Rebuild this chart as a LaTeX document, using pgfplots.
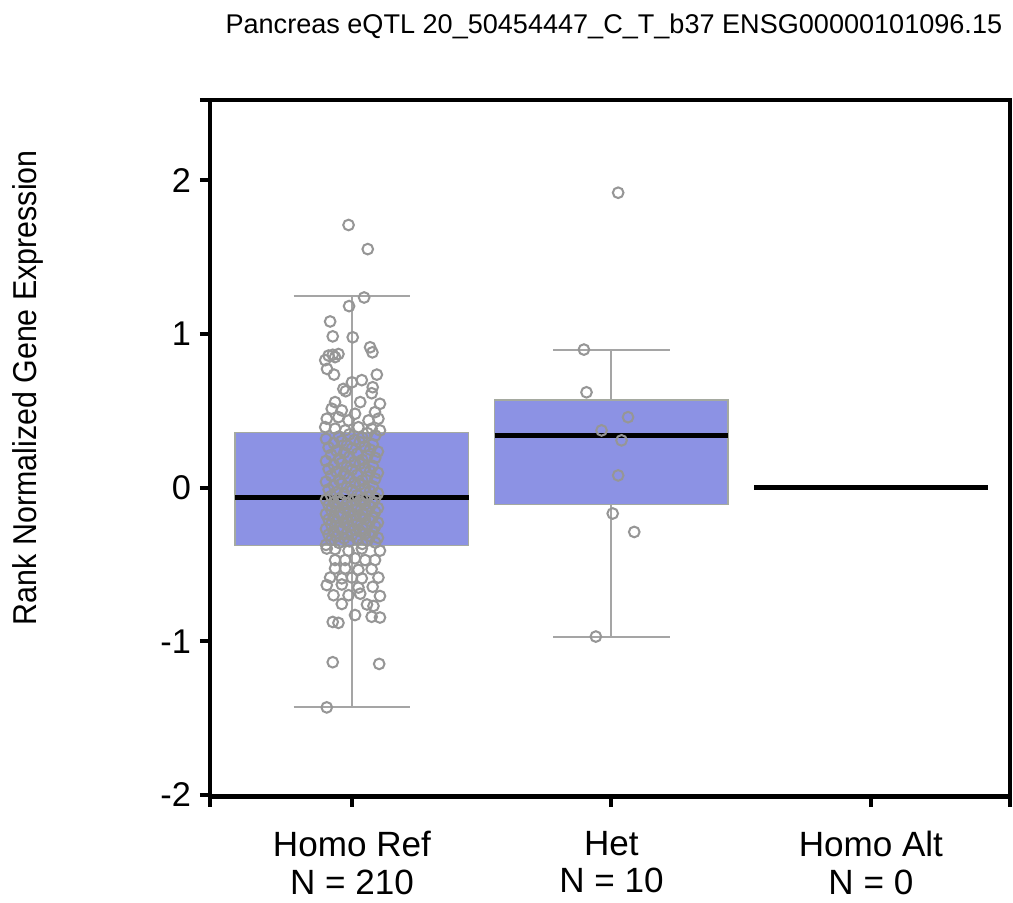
\documentclass[border=0pt]{standalone}
\usepackage{fontspec}
\setmainfont{Liberation Sans}
\usepackage{pgfplots}
\pgfplotsset{compat=1.18}
\usepgfplotslibrary{statistics}

\definecolor{boxfill}{RGB}{120,127,223}
\definecolor{boxedge}{RGB}{165,170,160}
\definecolor{whisk}{RGB}{165,165,165}
\definecolor{pts}{RGB}{150,150,150}

% jittered points, Homo Ref at x=0 (offset = jitter)
\pgfplotstableread{
x y
-0.013 1.710
0.061 1.553
0.047 1.238
-0.011 1.182
-0.084 1.082
-0.074 0.985
0.003 0.979
0.070 0.914
0.079 0.881
-0.090 0.860
-0.074 0.865
-0.052 0.870
-0.103 0.830
-0.065 0.850
-0.096 0.773
-0.069 0.736
0.096 0.736
0.038 0.700
0.000 0.686
-0.033 0.643
0.080 0.654
0.076 0.615
-0.024 0.628
-0.065 0.557
0.032 0.557
0.108 0.546
-0.078 0.514
-0.039 0.503
0.012 0.481
0.089 0.492
-0.097 0.449
-0.052 0.459
-0.013 0.438
0.064 0.438
0.102 0.449
-0.103 0.394
-0.065 0.384
-0.026 0.373
0.025 0.394
0.076 0.384
0.108 0.373
0.06 -0.060
-0.08 -0.054
0.02 -0.049
-0.03 -0.041
0.10 -0.036
-0.06 -0.030
0.07 -0.022
0.00 -0.017
-0.09 -0.011
0.05 -0.004
-0.02 0.002
0.08 0.009
-0.07 0.015
0.03 0.021
-0.04 0.026
0.01 0.034
-0.10 0.039
0.04 0.047
-0.05 0.052
0.09 0.058
-0.01 0.065
0.06 0.071
-0.08 0.078
0.02 0.083
-0.03 0.090
0.10 0.097
-0.06 0.103
0.07 0.109
0.00 0.116
-0.09 0.122
0.05 0.129
-0.02 0.135
0.08 0.142
-0.07 0.148
0.03 0.155
-0.04 0.161
0.01 0.168
-0.10 0.174
0.04 0.181
-0.05 0.188
0.09 0.194
-0.01 0.201
0.06 0.208
-0.08 0.214
0.02 0.221
-0.03 0.228
0.10 0.235
-0.06 0.241
0.07 0.248
0.00 0.255
-0.09 0.262
0.05 0.269
-0.02 0.276
0.08 0.283
-0.07 0.290
0.03 0.297
-0.04 0.304
0.01 0.311
-0.10 0.318
0.04 0.326
-0.05 0.333
0.09 0.340
-0.01 0.347
0.06 0.355
-0.10 -0.372
0.04 -0.366
-0.05 -0.359
0.09 -0.357
-0.01 -0.349
0.06 -0.344
-0.08 -0.341
0.02 -0.333
-0.03 -0.330
0.10 -0.326
-0.06 -0.318
0.07 -0.315
0.00 -0.309
-0.09 -0.306
0.05 -0.300
-0.02 -0.297
0.08 -0.291
-0.07 -0.285
0.03 -0.283
-0.04 -0.277
0.01 -0.272
-0.10 -0.268
0.04 -0.263
-0.05 -0.259
0.09 -0.252
-0.01 -0.250
0.06 -0.246
-0.08 -0.240
0.02 -0.236
-0.03 -0.229
0.10 -0.227
-0.06 -0.222
0.07 -0.216
0.00 -0.213
-0.09 -0.207
0.05 -0.204
-0.02 -0.198
0.08 -0.195
-0.07 -0.189
0.03 -0.186
-0.04 -0.180
0.01 -0.177
-0.10 -0.171
0.04 -0.168
-0.05 -0.164
0.09 -0.157
-0.01 -0.155
0.06 -0.150
-0.08 -0.144
0.02 -0.141
-0.03 -0.135
0.10 -0.132
-0.06 -0.126
0.07 -0.123
0.00 -0.117
-0.09 -0.114
0.05 -0.110
-0.02 -0.103
0.08 -0.101
-0.07 -0.096
0.03 -0.090
-0.04 -0.087
0.01 -0.081
-0.10 -0.078
0.04 -0.074
-0.05 -0.070
0.09 -0.067
-0.097 -0.396
-0.065 -0.400
-0.013 -0.410
0.038 -0.396
0.108 -0.410
-0.065 -0.471
-0.026 -0.471
0.012 -0.460
0.051 -0.471
0.089 -0.471
-0.065 -0.525
-0.026 -0.525
0.025 -0.535
0.076 -0.530
-0.084 -0.585
-0.039 -0.590
0.000 -0.585
0.038 -0.590
0.102 -0.585
-0.097 -0.634
-0.039 -0.630
0.025 -0.650
0.080 -0.645
-0.071 -0.700
-0.013 -0.700
0.032 -0.690
0.108 -0.705
-0.039 -0.757
0.058 -0.760
0.083 -0.770
0.012 -0.829
-0.074 -0.874
-0.052 -0.880
0.076 -0.840
0.108 -0.845
-0.074 -1.136
0.105 -1.147
-0.097 -1.430
}\homoref

\pgfplotstableread{
x y
1.026 1.920
0.894 0.899
0.904 0.621
1.064 0.459
0.962 0.373
1.039 0.308
1.026 0.080
1.005 -0.168
1.088 -0.288
0.940 -0.969
}\het

\begin{document}
\begin{tikzpicture}
\begin{axis}[
  scale only axis, width=11.06cm, height=9.63cm,
  xmin=-0.547, xmax=2.536, ymin=-2.01, ymax=2.524,
  clip=false,
  axis line style={line width=1.6pt},
  tick style={line width=1.6pt, black},
  major tick length=0.14cm,
  tick align=outside, xtick pos=left, ytick pos=left,
  xtick={0,1,2},
  xticklabels={{Homo Ref\\N = 210},{Het\\N = 10},{Homo Alt\\N = 0}},
  xticklabel style={align=center, yshift=-0.22cm, font=\fontsize{13.8}{14.6}\selectfont},
  ytick={-2,-1,0,1,2}, yticklabels={-2,-1,0,1,2},
  yticklabel style={font=\fontsize{13.5}{16}\selectfont},
  extra x ticks={-0.547,2.536}, extra x tick labels={},
  extra x tick style={xticklabel style={inner sep=0pt}},
  extra y ticks={2.524}, extra y tick labels={},
  extra y tick style={yticklabel style={inner sep=0pt}},
  boxplot/draw direction=y,
  boxplot/box extend=0.9,
  boxplot/whisker extend=0.45,
  boxplot/every box/.style={draw=boxedge, line width=0.6pt, fill=boxfill, fill opacity=0.85},
  boxplot/every whisker/.style={draw=whisk, line width=0.8pt},
  boxplot/every median/.style={draw=black, line width=2pt},
]
\addplot[only marks, mark=o, mark size=2.1pt, draw=pts, mark options={line width=0.8pt}] table[x=x,y=y] {\homoref};
\addplot[only marks, mark=o, mark size=2.1pt, draw=pts, mark options={line width=0.8pt}] table[x=x,y=y] {\het};

\addplot[boxplot prepared={draw position=0, median=-0.065, lower quartile=-0.377, upper quartile=0.360,
  lower whisker=-1.425, upper whisker=1.245}, draw=whisk, mark=none] coordinates {};
\addplot[boxplot prepared={draw position=1, median=0.340, lower quartile=-0.110, upper quartile=0.572,
  lower whisker=-0.969, upper whisker=0.899}, draw=whisk, mark=none] coordinates {};
\addplot[boxplot prepared={draw position=2, median=0, lower quartile=0, upper quartile=0,
  lower whisker=0, upper whisker=0}, draw=black, mark=none,
  boxplot/every box/.style={draw=none, fill=none},
  boxplot/every whisker/.style={draw=none}] coordinates {};

\node[anchor=east, inner sep=0pt, font=\fontsize{10.65}{12}\selectfont] at (rel axis cs:0.991,1.105)
  {Pancreas eQTL 20\_50454447\_C\_T\_b37 ENSG00000101096.15};
\node[rotate=90, inner sep=0pt, font=\fontsize{13}{15}\selectfont] at (rel axis cs:-0.228,0.587)
  {\scalebox{0.92}[1]{Rank Normalized Gene Expression}};
\path (rel axis cs:-0.2625,1.1435) rectangle (rel axis cs:1.00375,-0.1463);
\end{axis}
\end{tikzpicture}
\end{document}
